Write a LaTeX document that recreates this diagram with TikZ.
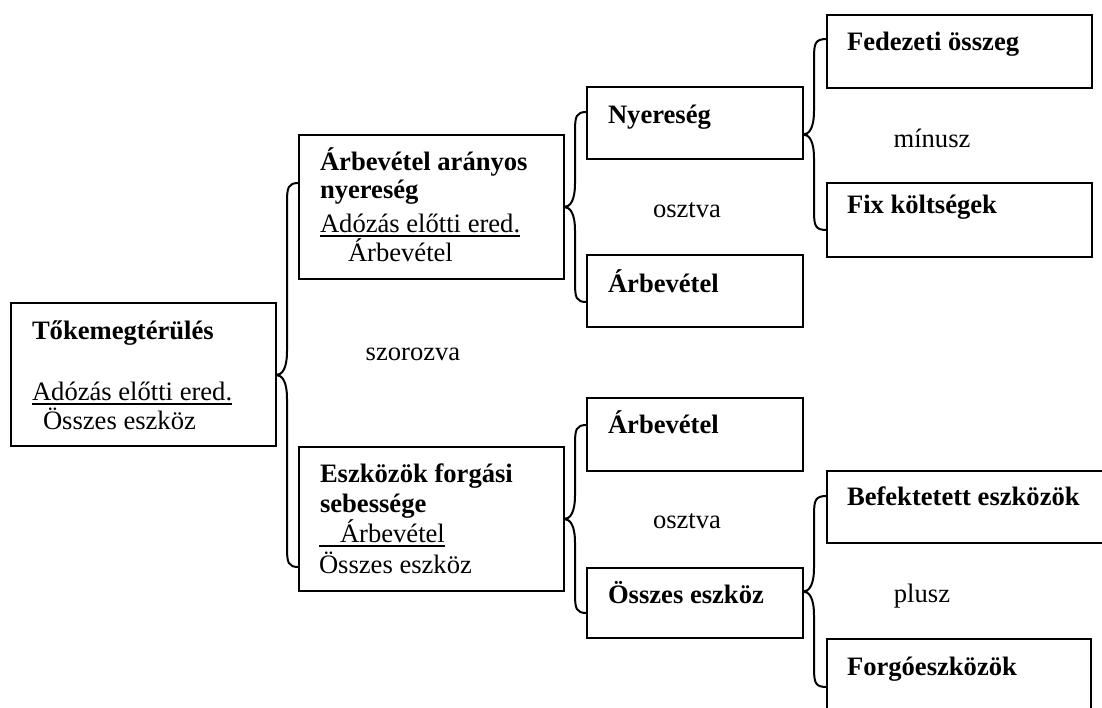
\documentclass[tikz,border=0pt]{standalone}
\usepackage{fontspec}
\setmainfont{Liberation Serif}
\usetikzlibrary{calc}

\tikzset{
  box/.style={draw, line width=2pt, rectangle, anchor=north west, inner sep=0pt, outer sep=0pt},
  txt/.style={anchor=base west, inner sep=0pt, outer sep=0pt},
  op/.style={anchor=base, inner sep=0pt, outer sep=0pt},
  brace/.style={line width=2pt, line cap=round, line join=round},
  uline/.style={line width=2pt},
  every node/.style={font=\fontsize{26.6}{32}\selectfont}
}

% curly brace from the east side of #1 to the two end points #2 (upper) and #3 (lower)
\newcommand{\curlybrace}[3]{%
  \draw[brace] let \p1=(#1.east), \p2=(#2), \p3=(#3), \p4=($(#2)!0.5!(#3)$) in
    (\p2) .. controls (\x1+12pt,\y2) and (\x1+11pt,\y2-4pt) .. (\x1+11pt,\y2-20pt)
    -- (\x1+11pt,\y4+24pt) .. controls (\x1+11pt,\y4+6pt) and (\x1+6pt,\y4) .. (\x1,\y4)
    .. controls (\x1+6pt,\y4) and (\x1+11pt,\y4-6pt) .. (\x1+11pt,\y4-24pt)
    -- (\x1+11pt,\y3+20pt) .. controls (\x1+11pt,\y3+4pt) and (\x1+12pt,\y3) .. (\p3);
}

\begin{document}
\begin{tikzpicture}[x=1pt,y=-1pt]
\useasboundingbox (0,0) rectangle (1102,707);
\clip (0,0) rectangle (1102,707);

% boxes
\node[box, minimum width=265pt, minimum height=143pt] (A)  at (11,303)  {};
\node[box, minimum width=265pt, minimum height=144pt] (B)  at (299,135) {};
\node[box, minimum width=265pt, minimum height=144pt] (E)  at (299,447) {};
\node[box, minimum width=216pt, minimum height=72pt]  (N)  at (587,87)  {};
\node[box, minimum width=216pt, minimum height=72pt]  (R1) at (587,255) {};
\node[box, minimum width=216pt, minimum height=73pt]  (R2) at (587,398) {};
\node[box, minimum width=216pt, minimum height=70pt]  (S)  at (587,568) {};
\node[box, minimum width=265pt, minimum height=73pt]  (F)  at (827,15)  {};
\node[box, minimum width=265pt, minimum height=74pt]  (X)  at (827,183) {};
\node[box, minimum width=300pt, minimum height=72pt]  (Bf) at (827,471) {};
\node[box, minimum width=264pt, minimum height=90pt]  (Fg) at (827,639) {};

% texts
\node[txt] (a1) at (32,339) {\textbf{Tőkemegtérülés}};
\node[txt] (a2) at (32,400) {Adózás előtti ered.};
\node[txt] (a3) at (43,429) {Összes eszköz};
\draw[uline] ([yshift=-4pt]a2.base west) -- ([yshift=-4pt]a2.base east);

\node[txt] (b1) at (320,170) {\textbf{Árbevétel arányos}};
\node[txt] (b2) at (320,198) {\textbf{nyereség}};
\node[txt] (b3) at (320,232) {Adózás előtti ered.};
\node[txt] (b4) at (348,261) {Árbevétel};
\draw[uline] ([yshift=-4pt]b3.base west) -- ([yshift=-4pt]b3.base east);

\node[txt] (e1) at (320,482) {\textbf{Eszközök forgási}};
\node[txt] (e2) at (320,512) {\textbf{sebessége}};
\node[txt] (e3) at (340,542) {Árbevétel};
\node[txt] (e4) at (319,573) {Összes eszköz};
\draw[uline] ([xshift=-21pt,yshift=-4pt]e3.base west) -- ([yshift=-4pt]e3.base east);

\node[txt] (n1)  at (608,123) {\textbf{Nyereség}};
\node[txt] (r1)  at (608,292) {\textbf{Árbevétel}};
\node[txt] (r2)  at (608,433) {\textbf{Árbevétel}};
\node[txt] (s1)  at (608,603) {\textbf{Összes eszköz}};
\node[txt] (f1)  at (847,50)  {\textbf{Fedezeti összeg}};
\node[txt] (x1)  at (847,213) {\textbf{Fix költségek}};
\node[txt] (bf1) at (847,505) {\textbf{Befektetett eszközök}};
\node[txt] (fg1) at (847,675) {\textbf{Forgóeszközök}};

% operation labels
\node[op] (opA) at (413,360) {szorozva};
\node[op] (opB) at (687,217) {osztva};
\node[op] (opN) at (932,147) {mínusz};
\node[op] (opE) at (687,528) {osztva};
\node[op] (opS) at (922,602) {plusz};

% brace end points on the boxes
\coordinate (Bin)  at ($(B.north west)+(0,48)$);
\coordinate (Ein)  at ($(E.north west)+(0,120)$);
\coordinate (Nin)  at ($(N.north west)+(0,25)$);
\coordinate (R1in) at ($(R1.north west)+(0,47)$);
\coordinate (Fin)  at ($(F.north west)+(0,24)$);
\coordinate (Xin)  at ($(X.north west)+(0,47)$);
\coordinate (R2in) at ($(R2.north west)+(0,27)$);
\coordinate (Sin)  at ($(S.north west)+(0,45)$);
\coordinate (Bfin) at ($(Bf.north west)+(0,25)$);
\coordinate (Fgin) at ($(Fg.north west)+(0,48)$);

% braces
\curlybrace{A}{Bin}{Ein}
\curlybrace{B}{Nin}{R1in}
\curlybrace{N}{Fin}{Xin}
\curlybrace{E}{R2in}{Sin}
\curlybrace{S}{Bfin}{Fgin}
\end{tikzpicture}
\end{document}
